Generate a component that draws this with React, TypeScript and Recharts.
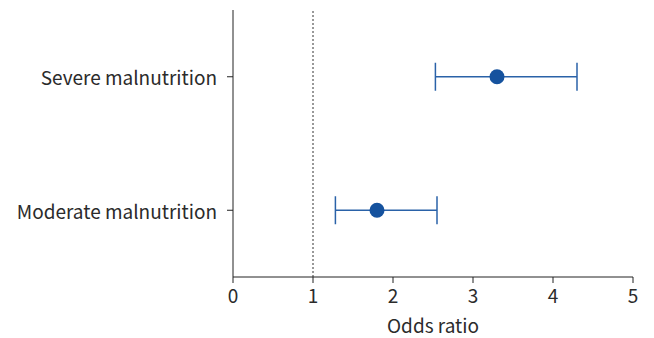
import React from "react";
import { ScatterChart, Scatter, XAxis, YAxis, ErrorBar, ReferenceLine, Label } from "recharts";

// rows from bottom to top
const rowLabels = ["Moderate malnutrition", "Severe malnutrition"];
const rowPositions = [0.5, 1.5];
const oddsRatios = [1.8, 3.3];
const ciLower = [1.28, 2.53];
const ciUpper = [2.55, 4.3];
const xTicks = [0, 1, 2, 3, 4, 5];

const chartData = rowLabels.map((name, i) => ({
    name,
    pos: rowPositions[i],
    or: oddsRatios[i],
    err: [oddsRatios[i] - ciLower[i], ciUpper[i] - oddsRatios[i]],
}));

const FONT = "'Noto Sans CJK SC', 'Noto Sans', sans-serif";
const DOT = "#15529e";
const LINE = "#2a62a8";

const Dot = (props: any) => <circle cx={props.cx} cy={props.cy} r={7.5} fill={DOT} />;

// axis title drawn under the tick numbers
const AxisTitle = (props: any) => {
    const { viewBox } = props;
    return (
        <text
            x={viewBox.x + viewBox.width / 2}
            y={viewBox.y + 56}
            textAnchor="middle"
            fill="#2b2b2b"
            fontSize={19}
            fontFamily={FONT}
        >
            Odds ratio
        </text>
    );
};

export default function App() {
    return (
        <div style={{ position: "absolute", top: 0, left: 0, width: 654, height: 338, background: "#fff" }}>
            <ScatterChart width={654} height={338} margin={{ top: 10, right: 21, bottom: 0, left: 0 }}>
                <XAxis
                    type="number"
                    dataKey="or"
                    domain={[0, 5]}
                    ticks={xTicks}
                    height={61}
                    stroke="#222"
                    tickSize={6}
                    tickMargin={7}
                    tick={{ fill: "#2b2b2b", fontSize: 19, fontFamily: FONT }}
                >
                    <Label content={<AxisTitle />} />
                </XAxis>
                <YAxis
                    type="number"
                    dataKey="pos"
                    domain={[0, 2]}
                    ticks={rowPositions}
                    tickFormatter={(v: number) => rowLabels[rowPositions.indexOf(v)]}
                    width={233}
                    stroke="#222"
                    tickSize={6}
                    tickMargin={10}
                    tick={{ fill: "#2b2b2b", fontSize: 19, fontFamily: FONT, dy: 2 }}
                />
                <ReferenceLine x={1} stroke="#333" strokeDasharray="2 2" />
                <Scatter data={chartData} shape={<Dot />} isAnimationActive={false}>
                    <ErrorBar dataKey="err" direction="x" width={14} stroke={LINE} strokeWidth={1.5} />
                </Scatter>
            </ScatterChart>
        </div>
    );
}
